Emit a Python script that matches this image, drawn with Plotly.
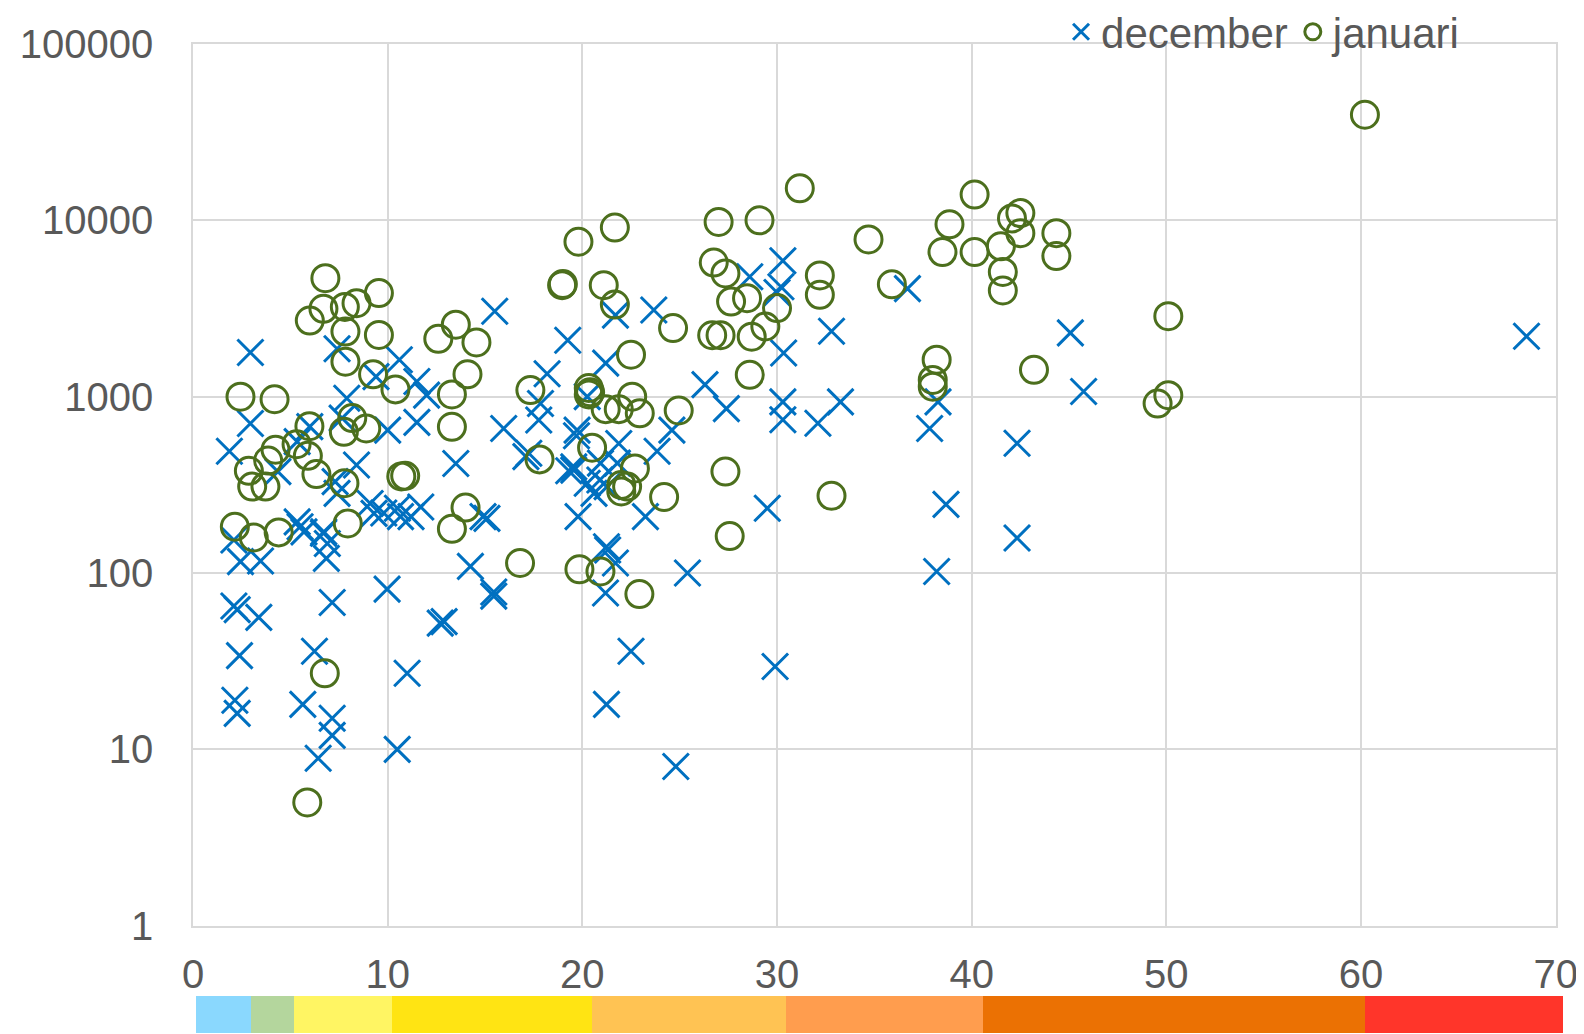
import plotly.graph_objects as go

# Colours
DEC_BLUE = '#0070C0'
JAN_GREEN = '#4C6F1D'
GRID = '#D9D9D9'
TEXT = '#595959'

# december (x markers)
dec_x = [2.95, 7.4, 10.6, 11.5, 12.0, 9.4, 15.5, 7.9, 2.95, 1.87, 6.0, 7.66, 10.0, 11.5, 8.4,
         13.5, 4.36, 5.35, 7.4, 9.1, 10.5, 11.7, 9.8, 11.2, 5.5, 6.7, 14.9, 7.3,
         2.1, 2.44, 3.47, 5.35, 5.7, 6.72, 6.9, 6.85, 9.3, 10.66, 14.25, 9.97, 2.1, 2.27, 3.38,
         7.15, 12.7, 12.9, 2.39, 6.24, 11.0, 2.15, 2.27, 5.64, 7.15, 7.15, 10.49, 6.43,
         19.25, 21.7, 23.67, 18.19, 21.2, 17.85, 17.76, 15.96, 20.25, 19.73, 19.7, 17.25, 21.87,
         23.84, 24.6, 26.3, 27.4, 28.6, 19.56, 19.3, 20.93, 20.25, 21.27, 15.1, 15.45, 15.45,
         19.78, 21.24, 21.3, 21.7, 21.19, 23.24, 25.4, 22.5, 21.24, 24.8, 29.5, 29.9, 19.56,
         20.9, 20.6, 21.8, 17.1,
         30.3, 30.0, 30.2, 32.8, 36.7, 30.34, 30.3, 30.3, 33.26, 32.1, 38.27, 37.84, 45.07,
         45.75, 42.33, 38.68, 42.33, 38.2, 68.5]
dec_y = [1780, 1870, 1620, 1220, 1020, 1300, 3050, 980, 705, 490, 676, 756, 646, 715, 410,
         418, 376, 556, 283, 248, 233, 237, 219, 209, 183, 168, 209, 330,
         154, 116, 117, 195, 171, 171, 147, 121, 218, 209, 109, 81, 65, 62, 56,
         68, 52, 53, 34, 36, 27, 19, 16, 18, 15, 12, 10, 8.9,
         2090, 2900, 3100, 1350, 1550, 915, 738, 660, 1000, 646, 600, 478, 543,
         490, 646, 1170, 855, 4790, 400, 380, 420, 323, 309, 204, 78, 74,
         209, 141, 135, 114, 77, 209, 100, 36, 18, 8, 233, 29.5, 383,
         337, 283, 420, 457,
         5900, 3900, 4200, 2350, 4100, 1770, 935, 740, 935, 707, 935, 660, 2300,
         1070, 544, 245, 158, 102, 2200]

# januari (open circles)
jan_x = [6.8, 9.55, 6.7, 6.0, 7.8, 8.4, 7.83, 9.55, 7.83, 9.25, 10.4, 13.5, 12.6, 14.56, 14.1,
         13.3, 13.3, 2.44, 4.19, 8.18, 7.75, 8.9, 5.98, 5.32, 5.9, 4.24, 3.86, 2.87, 3.04, 3.72,
         6.34, 7.78, 10.9, 10.7, 2.15, 3.12, 4.4, 7.95, 14.0, 13.3, 6.77, 5.87,
         19.8, 21.67, 18.96, 19.0, 21.1, 21.67, 24.66, 22.5, 17.33, 20.33, 20.4, 20.33, 22.56,
         21.2, 21.87, 22.95, 24.95, 17.8, 20.5, 22.7, 22.0, 22.3, 22.0, 24.2, 27.0, 29.1, 26.75,
         27.35, 27.64, 28.46, 26.67, 27.1, 28.7, 29.4, 30.0, 28.6, 27.35, 27.57, 16.8, 19.85,
         20.93, 22.93,
         31.17, 40.15, 34.7, 38.86, 38.5, 40.15, 42.07, 42.5, 42.5, 41.5, 41.6, 41.6, 44.35,
         44.35, 32.2, 32.2, 35.9, 38.2, 38.0, 38.0, 43.2, 32.8, 60.2, 50.1, 50.1, 49.55]
jan_y = [4700, 3870, 3150, 2700, 3230, 3390, 2340, 2240, 1580, 1340, 1100, 2560, 2130, 2030, 1340,
         1030, 675, 1000, 967, 756, 632, 661, 680, 538, 462, 500, 434, 380, 309, 309,
         364, 323, 356, 353, 183, 159, 170, 191, 235, 178, 27, 5,
         7560, 9100, 4290, 4350, 4290, 3330, 2450, 1730, 1090, 1120, 1060, 1030, 1000,
         850, 850, 805, 835, 441, 514, 392, 316, 309, 290, 270, 9800, 10000, 5760,
         5000, 3460, 3620, 2230, 2230, 2190, 2500, 3180, 1330, 376, 162, 114, 105,
         102, 76,
         15200, 14000, 7790, 9500, 6610, 6610, 10250, 11000, 8460, 7120, 5100, 4000, 8460,
         6270, 4870, 3780, 4340, 1620, 1245, 1140, 1420, 274, 39700, 2860, 1020, 914]

# axis ticks
x_ticks = [0, 10, 20, 30, 40, 50, 60, 70]
y_ticks = [1, 10, 100, 1000, 10000, 100000]
y_tick_labels = ['1', '10', '100', '1000', '10000', '100000']

# colour band under the x axis (segment edges in x units)
band_edges = [0.13, 2.98, 5.21, 10.2, 20.52, 30.48, 40.6, 60.2, 70.4]
band_colors = ['#8AD8FE', '#B4D69D', '#FFF563', '#FFE413', '#FFC353', '#FF9D4E', '#EB7103', '#FF352A']

fig = go.Figure()

fig.add_trace(go.Scatter(
    x=dec_x, y=dec_y, mode='markers', name='december',
    marker=dict(symbol='x-thin-open', size=26, color=DEC_BLUE,
                line=dict(color=DEC_BLUE, width=3)),
))
fig.add_trace(go.Scatter(
    x=jan_x, y=jan_y, mode='markers', name='januari',
    marker=dict(symbol='circle-open', size=27, color=JAN_GREEN,
                line=dict(color=JAN_GREEN, width=3)),
))

# band as horizontal bars on a second axis pair
for i, c in enumerate(band_colors):
    fig.add_trace(go.Bar(
        x=[band_edges[i + 1] - band_edges[i]], base=[band_edges[i]], y=[0],
        orientation='h', marker=dict(color=c, line=dict(width=0)), width=1,
        xaxis='x2', yaxis='y2', showlegend=False, hoverinfo='skip',
    ))

# page body adds an 8px offset, so the figure is laid out 8px up/left
OFF = 8
W, H = 1584 - OFF, 1034 - OFF
left, right_plot, right_band = 192.5 - OFF, 1555.7 - OFF, 1563 - OFF
top, bottom_plot = 44 - OFF, 925.7 - OFF
band_top, band_bottom = 996 - OFF, 1033 - OFF
paper_w = right_band - left
paper_h = H - top

fig.update_layout(
    width=W, height=H,
    margin=dict(l=left, r=W - right_band, t=top, b=0, autoexpand=False),
    plot_bgcolor='white', paper_bgcolor='white',
    font=dict(family='Liberation Sans, Arial, sans-serif', color=TEXT, size=40),
    showlegend=True,
    legend=dict(orientation='h', x=(1466 - OFF - left) / paper_w, xanchor='right',
                y=(H - 24) / paper_h, yanchor='middle',
                font=dict(size=42, color=TEXT), bgcolor='rgba(0,0,0,0)',
                itemwidth=30, tracegroupgap=0, borderwidth=0),
    xaxis=dict(range=[0, 70], domain=[0, (right_plot - left) / paper_w],
               tickvals=x_ticks, showgrid=True, gridcolor=GRID, gridwidth=1.5,
               showline=True, linecolor=GRID, linewidth=1.5, mirror=True,
               zeroline=False, ticks='', ticklabelstandoff=13,
               tickfont=dict(size=40, color=TEXT), anchor='y'),
    yaxis=dict(type='log', range=[0, 5], domain=[(H - bottom_plot) / paper_h, 1],
               tickvals=y_ticks, ticktext=y_tick_labels,
               showgrid=True, gridcolor=GRID, gridwidth=1.5,
               showline=True, linecolor=GRID, linewidth=1.5, mirror=True,
               zeroline=False, ticks='', ticklabelstandoff=30,
               tickfont=dict(size=40, color=TEXT), anchor='x'),
    xaxis2=dict(range=[0, paper_w / ((right_plot - left) / 70)], domain=[0, 1],
                visible=False, anchor='y2', fixedrange=True),
    yaxis2=dict(range=[-0.5, 0.5], domain=[(H - band_bottom) / paper_h, (H - band_top) / paper_h],
                visible=False, anchor='x2', fixedrange=True),
    barmode='overlay',
    bargap=0,
)

fig.write_html('out.html')
